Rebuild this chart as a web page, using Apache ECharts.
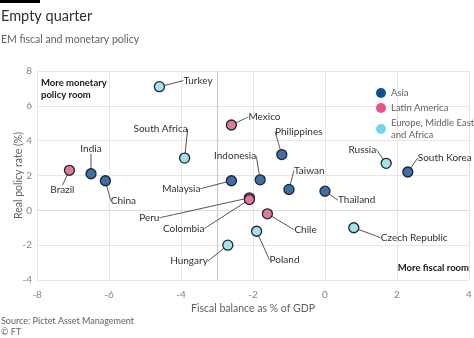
<!DOCTYPE html>
<html><head><meta charset="utf-8">
<script src="https://cdn.jsdelivr.net/npm/echarts@6/dist/echarts.min.js"></script>
<style>html,body{margin:0;padding:0;background:#fff}#c{width:474px;height:338px}</style>
</head><body><div id="c"></div>
<script>
const regions = ["Asia", "Latin America", "Europe, Middle East\nand Africa"];
const asia = [["India",-6.5,2.1],["China",-6.1,1.7],["Malaysia",-2.6,1.7],["Indonesia",-1.8,1.75],["Philippines",-1.2,3.2],["Taiwan",-1.0,1.2],["Thailand",0.0,1.1],["South Korea",2.3,2.2]];
const latam = [["Brazil",-7.1,2.3],["Mexico",-2.6,4.9],["Peru",-2.1,0.72],["Colombia",-2.1,0.62],["Chile",-1.6,-0.2]];
const emea = [["Turkey",-4.6,7.1],["South Africa",-3.9,3.0],["Russia",1.7,2.7],["Czech Republic",0.8,-1.0],["Poland",-1.9,-1.2],["Hungary",-2.7,-2.0]];
const xTicks = [-8,-6,-4,-2,0,2,4];
const yTicks = [-4,-2,0,2,4,6,8];
const dividerX = -3;

// label placement relative to point: [dx, dy, align]
const labelPos = {
  "Turkey":[24,-6,"left"],"Mexico":[17,-8,"left"],"Philippines":[17,-23,"center"],
  "Russia":[-10,-14,"right"],"South Korea":[10,-14,"left"],"Indonesia":[-4,-24,"right"],
  "Malaysia":[-31,8,"right"],"Taiwan":[5,-19,"left"],"Thailand":[13,9,"left"],
  "Peru":[-90,20,"right"],"Colombia":[-45,29,"right"],"Chile":[27,16,"left"],
  "Czech Republic":[27,10,"left"],"Poland":[13,29,"left"],"Hungary":[-20,16,"right"],
  "South Africa":[-24,-29,"center"],"Brazil":[-7,20,"center"],"India":[0,-25,"center"],
  "China":[18,20,"center"]
};
const pointColors = ["#3d6ea6","#e07a9c","#a3e2ea"];
const legendColors = ["#0f4f96","#e8528a","#6dd8e8"];
const F = "Lato, 'Noto Sans', sans-serif";

function mk(name, arr, i){
  return {
    name, type:"scatter", symbolSize:10,
    data: arr.map(d=>({name:d[0], value:[d[1],d[2]]})),
    itemStyle:{color:pointColors[i], borderColor:"#1e2430", borderWidth:1.3, opacity:1},
    label:{show:true, formatter:"{b}", color:"#33302e", fontSize:10, fontFamily:F},
    labelLine:{show:true, smooth:0.35, lineStyle:{color:"#55504c", width:1}},
    labelLayout: function(p){
      const n = (arr[p.dataIndex]||[])[0];
      const o = labelPos[n] || [10,0,"left"];
      const cx = p.rect.x + p.rect.width/2, cy = p.rect.y + p.rect.height/2;
      return {x: cx + o[0], y: cy + o[1], align:o[2], verticalAlign:"middle"};
    },
    z: 5
  };
}

const chart = echarts.init(document.getElementById("c"), null, {renderer:"canvas"});
chart.setOption({
  backgroundColor:"#ffffff",
  animation:false,
  graphic:[
    {type:"rect", shape:{x:0,y:0,width:40,height:3}, style:{fill:"#000"}},
    {type:"text", left:1, top:9, style:{text:"Empty quarter", fontSize:14.5, fill:"#33302e", fontFamily:F}},
    {type:"text", left:1, top:34, style:{text:"EM fiscal and monetary policy", fontSize:10.5, fill:"#66605c", fontFamily:F}},
    {type:"text", left:41, top:77, style:{text:"More monetary\npolicy room", fontSize:9.5, fontWeight:"bold", fill:"#1a1817", lineHeight:12, fontFamily:F}},
    {type:"text", right:5, top:263, style:{text:"More fiscal room", fontSize:9.5, fontWeight:"bold", fill:"#1a1817", fontFamily:F}},
    {type:"text", left:1, top:317, style:{text:"Source: Pictet Asset Management", fontSize:9, fill:"#66605c", fontFamily:F}},
    {type:"text", left:1, top:328, style:{text:"© FT", fontSize:9, fill:"#66605c", fontFamily:F}}
  ],
  legend:{
    orient:"vertical", left:371, top:82, itemWidth:10, itemHeight:10, itemGap:3, icon:"circle",
    textStyle:{color:"#66605c", fontSize:9.5, fontFamily:F, lineHeight:12, width:100, overflow:"none"},
    data: regions.map((r,i)=>({name:r, itemStyle:{color:legendColors[i], borderWidth:0}}))
  },
  grid:{left:37, right:5, top:71, bottom:58, containLabel:false, outerBoundsMode:"none"},
  xAxis:{
    type:"value", min:xTicks[0], max:xTicks[xTicks.length-1], interval:2,
    name:"Fiscal balance as % of GDP", nameLocation:"middle", nameGap:23, nameMoveOverlap:false,
    nameTextStyle:{color:"#66605c", fontSize:10.5, fontFamily:F},
    axisLine:{show:false}, axisTick:{show:false},
    axisLabel:{color:"#8a8480", fontSize:10, fontFamily:F, margin:10},
    splitLine:{show:true, lineStyle:{color:"#e9e6e2", width:1}}
  },
  yAxis:{
    type:"value", min:yTicks[0], max:yTicks[yTicks.length-1], interval:2,
    name:"Real policy rate (%)", nameLocation:"middle", nameGap:13, nameMoveOverlap:false,
    nameTextStyle:{color:"#66605c", fontSize:10.5, fontFamily:F},
    axisLine:{show:false}, axisTick:{show:false},
    axisLabel:{color:"#8a8480", fontSize:10, fontFamily:F, margin:5},
    splitLine:{show:true, lineStyle:{color:"#e9e6e2", width:1}}
  },
  series:[
    Object.assign(mk(regions[0], asia, 0), {
      markLine:{silent:true, symbol:"none", label:{show:false},
        lineStyle:{color:"#d2c8b8", width:1.2, type:"solid"},
        data:[{xAxis:dividerX}, {yAxis:0, lineStyle:{color:"#e0dbd5", width:1.2}}]}
    }),
    mk(regions[1], latam, 1),
    mk(regions[2], emea, 2)
  ]
});
</script></body></html>
